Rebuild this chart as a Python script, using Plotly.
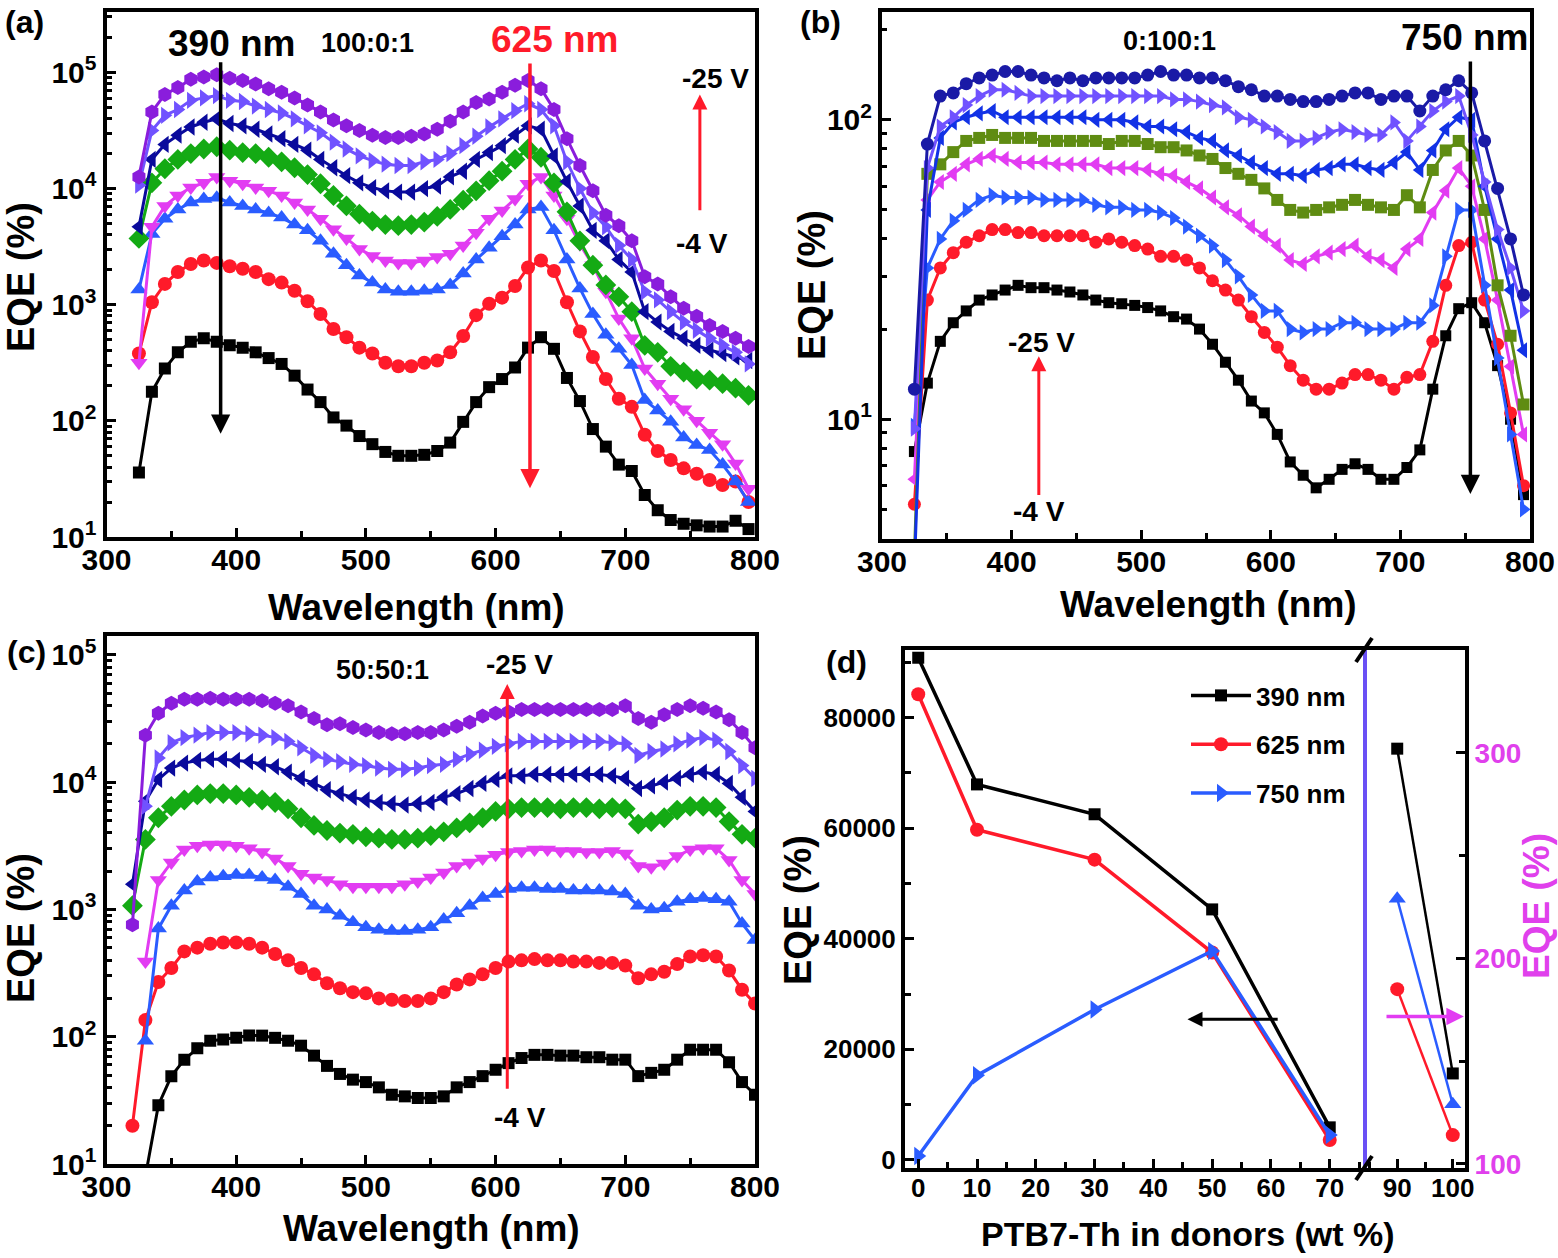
"""EQE spectra of the three blends under bias, plus EQE vs PTB7-Th content."""

import plotly.graph_objects as go

W, H = 1558, 1258
FONT = "Liberation Sans, Arial, Helvetica, sans-serif"

# ── wavelength grids (nm) ────────────────────────────────────────────────────
wl_ab = [325, 335, 345, 355, 365, 375, 385, 395,
         405, 415, 425, 435, 445, 455, 465, 475,
         485, 495, 505, 515, 525, 535, 545, 555,
         565, 575, 585, 595, 605, 615, 625, 635,
         645, 655, 665, 675, 685, 695, 705, 715,
         725, 735, 745, 755, 765, 775, 785, 795]

wl_c = [320, 330, 340, 350, 360, 370, 380,
        390, 400, 410, 420, 430, 440, 450,
        460, 470, 480, 490, 500, 510, 520,
        530, 540, 550, 560, 570, 580, 590,
        600, 610, 620, 630, 640, 650, 660,
        670, 680, 690, 700, 710, 720, 730,
        740, 750, 760, 770, 780, 790, 800]

# ── (a) 100:0:1, EQE (%) from -4 V (black) up to -25 V (purple) ─────────────
a_black = [36, 178, 282, 389, 479, 513, 479, 447,
           427, 389, 347, 309, 245, 186, 145, 107,
           91, 74, 63, 54, 50, 50, 51, 55,
           65, 98, 145, 195, 229, 288, 427, 525,
           417, 234, 148, 85, 60, 42, 37, 23,
           17, 14, 13, 12.6, 12.3, 12.3, 13.8, 11.7]
a_red = [380, 1050, 1510, 1910, 2240, 2400, 2290, 2140,
         2040, 1910, 1660, 1550, 1320, 1070, 832, 617,
         525, 427, 380, 316, 295, 295, 316, 331,
         389, 537, 813, 1020, 1150, 1450, 2090, 2400,
         1950, 1050, 589, 355, 229, 155, 132, 76,
         55, 46, 39, 35, 31, 28, 30, 20]
a_blue = [1350, 4070, 5500, 6610, 7590, 8130, 8320, 7590,
          7080, 6610, 6170, 5620, 4900, 4370, 3550, 2750,
          2190, 1780, 1550, 1350, 1290, 1290, 1320, 1350,
          1480, 1860, 2450, 3090, 3890, 4900, 6610, 6920,
          4370, 2450, 1380, 832, 550, 417, 302, 151,
          123, 98, 72, 62, 56, 42, 30, 20]
a_magenta = [316, 4680, 7080, 8710, 10200, 11200, 12600, 11700,
             11000, 10200, 9550, 8710, 7590, 6610, 5500, 4470,
             3720, 3020, 2630, 2400, 2290, 2290, 2400, 2570,
             2750, 3240, 4170, 5500, 6460, 8130, 11000, 12600,
             8710, 5500, 3310, 2190, 1290, 759, 513, 282,
             209, 155, 126, 100, 79, 63, 43, 26]
a_green = [3720, 11200, 14800, 17800, 20000, 21900, 22900, 21400,
           20400, 20000, 18600, 17000, 15100, 13200, 11000, 8710,
           7080, 6030, 5250, 4900, 4790, 4900, 5130, 5750,
           6610, 7940, 9550, 11700, 14100, 17800, 21900, 18600,
           11200, 6310, 3550, 2190, 1480, 1170, 871, 447,
           389, 295, 263, 229, 224, 209, 191, 166]
a_navy = [4680, 17800, 24000, 28800, 33900, 37200, 39800, 36300,
          34700, 32400, 29500, 26900, 24000, 21400, 17800, 15100,
          12900, 11200, 10200, 9550, 9330, 9330, 10000, 10500,
          12600, 14100, 17800, 20400, 23400, 28800, 34700, 32400,
          19100, 11500, 7080, 4370, 3550, 2450, 1910, 871,
          708, 589, 513, 447, 407, 380, 355, 331]
a_violet = [10700, 31600, 42700, 47900, 57500, 60300, 63100, 57500,
            56200, 51300, 47900, 44700, 39800, 34700, 30200, 25100,
            21900, 19100, 17400, 16200, 15800, 15800, 17000, 17800,
            20000, 23400, 28200, 33900, 39800, 46800, 53700, 47900,
            34700, 17000, 10000, 6170, 4680, 3240, 2450, 1290,
            1100, 871, 708, 603, 513, 447, 389, 309]
a_purple = [12600, 45700, 64600, 74100, 87100, 91200, 95500, 89100,
            85100, 79400, 72400, 67600, 60300, 52500, 45700, 38900,
            34700, 31600, 28800, 27500, 27500, 28200, 29500, 32400,
            38000, 45700, 55000, 58900, 67600, 77600, 85100, 72400,
            47900, 26900, 15800, 9550, 5890, 4790, 3550, 1740,
            1510, 1170, 933, 794, 661, 589, 513, 437]

# ── (b) 0:100:1 ──────────────────────────────────────────────────────────────
b_black = [7.8, 13.2, 18.2, 21, 23, 25, 26, 27,
           28, 27.5, 27.5, 27, 26.6, 26, 25, 24.5,
           24.3, 24, 23.6, 23, 22, 21.6, 20, 17.8,
           15.5, 13.5, 11.5, 10.5, 8.9, 7.2, 6.5, 5.9,
           6.3, 6.8, 7.1, 6.8, 6.3, 6.3, 6.9, 7.9,
           12.6, 19, 23.4, 24.5, 21, 15.1, 10, 5.6]
b_red = [5.2, 25, 32, 36, 39, 41, 43, 43,
         42, 42, 41, 41, 41, 41, 39, 40,
         39, 38, 37, 35, 35, 34, 32, 29,
         27, 25, 22, 19.5, 17.4, 15.1, 13.5, 12.6,
         12.6, 13.2, 14.1, 14.1, 13.5, 12.6, 13.8, 14.1,
         18.2, 28, 38, 39, 25, 17.8, 10.5, 6.0]
b_blue_r = [9.5, 32, 40, 46, 50, 54, 56, 55,
            55, 55, 54, 54, 54, 54, 52, 51,
            51, 50, 50, 49, 47, 44, 41, 38,
            34, 30, 26, 23, 23, 20, 19.5, 20,
            20, 21, 21, 20, 20, 20, 21, 21,
            24, 35, 50, 50, 28, 16, 8.9, 5.0]
b_magenta = [6.3, 54, 62, 66, 71, 74, 76, 74,
             72, 72, 72, 71, 71, 71, 71, 69,
             69, 69, 68, 66, 65, 62, 59, 55,
             51, 48, 44, 41, 38, 34, 33, 35,
             36, 37, 38, 35, 34, 32, 37, 40,
             49, 58, 69, 60, 40, 25, 15, 8.9]
b_olive = [3.5, 66, 71, 78, 85, 87, 89, 87,
           87, 87, 85, 85, 85, 85, 85, 83,
           85, 85, 83, 81, 81, 79, 76, 74,
           69, 66, 63, 59, 54, 50, 49, 50,
           51, 52, 54, 52, 51, 50, 56, 51,
           68, 79, 85, 76, 50, 28, 19, 11.2]
b_blue_l = [3.2, 50, 87, 98, 102, 105, 107, 102,
            102, 102, 102, 102, 102, 102, 100, 100,
            100, 98, 95, 95, 93, 91, 87, 85,
            79, 76, 72, 69, 66, 66, 65, 68,
            69, 71, 71, 69, 68, 72, 78, 68,
            79, 93, 102, 100, 60, 40, 27, 17]
b_violet = [9.3, 69, 95, 102, 112, 120, 126, 126,
            123, 120, 120, 120, 120, 120, 120, 120,
            120, 120, 120, 120, 117, 117, 115, 112,
            110, 102, 100, 95, 91, 85, 85, 87,
            91, 93, 91, 89, 89, 98, 85, 95,
            107, 115, 120, 89, 62, 43, 32, 23]
b_navy = [12.6, 83, 120, 123, 132, 138, 141, 145,
          145, 141, 138, 135, 138, 135, 138, 138,
          138, 138, 141, 145, 141, 141, 138, 138,
          135, 129, 126, 120, 120, 117, 115, 115,
          117, 120, 123, 123, 117, 120, 120, 107,
          120, 126, 135, 123, 85, 59, 40, 26]

# ── (c) 50:50:1 ──────────────────────────────────────────────────────────────
c_black = [None, 8, 29, 49, 66, 81, 93,
           95, 98, 102, 102, 98, 93, 85,
           71, 59, 51, 46, 44, 40, 35,
           34, 33, 33, 34, 40, 44, 49,
           55, 62, 68, 72, 72, 71, 71,
           69, 69, 66, 66, 49, 52, 55,
           66, 79, 79, 79, 63, 44, 35]
c_red = [20, 135, 269, 347, 468, 501, 537,
         550, 550, 537, 501, 447, 398, 347,
         309, 263, 240, 224, 219, 200, 195,
         191, 191, 200, 224, 257, 282, 309,
         347, 389, 398, 407, 398, 398, 389,
         389, 380, 380, 363, 288, 309, 324,
         372, 427, 437, 427, 331, 234, 182]
c_blue = [None, 93, 708, 1070, 1410, 1660, 1780,
          1820, 1860, 1860, 1780, 1700, 1510, 1320,
          1070, 1000, 891, 794, 724, 692, 676,
          676, 692, 724, 832, 933, 1070, 1230,
          1320, 1450, 1480, 1480, 1450, 1450, 1410,
          1410, 1410, 1380, 1320, 1070, 1000, 1020,
          1150, 1200, 1230, 1200, 1150, 776, 575]
c_magenta = [None, 389, 1700, 2340, 2950, 3160, 3240,
             3240, 3160, 3020, 2820, 2510, 2190, 1910,
             1780, 1700, 1580, 1510, 1510, 1510, 1510,
             1580, 1660, 1780, 1950, 2190, 2340, 2510,
             2690, 2820, 2880, 2950, 2950, 2880, 2880,
             2820, 2820, 2880, 2750, 2190, 2140, 2290,
             2630, 2950, 3020, 3020, 2450, 1700, 1320]
c_green = [1070, 3550, 5250, 6460, 7240, 7940, 8130,
           8130, 7940, 7590, 7240, 6920, 6170, 5250,
           4570, 4170, 3980, 3890, 3720, 3630, 3550,
           3550, 3630, 3800, 4070, 4370, 4790, 5250,
           5890, 6170, 6310, 6310, 6310, 6170, 6310,
           6310, 6170, 6310, 6170, 4680, 4900, 5250,
           6030, 6460, 6460, 6310, 4900, 3890, 3630]
c_navy = [1580, 7080, 10500, 12900, 14100, 14800, 15100,
          15100, 14800, 14500, 13800, 13200, 12000, 10700,
          9770, 8710, 8130, 7590, 7240, 6920, 6760,
          6610, 6760, 6920, 7590, 8130, 8910, 9770,
          10500, 11200, 11200, 11500, 11500, 11500, 11500,
          11500, 11500, 11200, 10700, 8910, 9330, 10000,
          10700, 11500, 12000, 11500, 9770, 7590, 5890]
c_violet = [None, 6460, 15500, 20400, 22400, 23400, 24500,
            24500, 24500, 24000, 23400, 22400, 20900, 18600,
            16200, 15100, 14500, 13800, 13500, 12900, 12600,
            12600, 12900, 13500, 13800, 15100, 16600, 17800,
            19100, 20000, 20900, 20900, 20900, 20900, 20900,
            20900, 20900, 20400, 20000, 16200, 17400, 18200,
            20000, 21400, 22400, 21400, 17400, 13500, 10700]
c_purple = [759, 23400, 34700, 41700, 44700, 44700, 45700,
            44700, 44700, 44700, 43600, 41700, 39800, 35500,
            31600, 28200, 28800, 26900, 25700, 24500, 24000,
            24000, 24500, 24500, 25700, 27500, 29500, 33100,
            34700, 35500, 37200, 37200, 37200, 37200, 37200,
            37200, 37200, 37200, 39800, 31600, 29500, 33900,
            37200, 39800, 38000, 35500, 30900, 24500, 18600]

# ── (d) EQE at -25 V vs PTB7-Th fraction in donors ───────────────────────────
ptb7_low = [0, 10, 30, 50, 70]
d390_low = [90800, 67900, 62500, 45300, 5900]
d625_low = [84200, 59700, 54300, 37500, 3600]
d750_low = [720, 15300, 27200, 37800, 4500]
ptb7_high = [90, 100]
d390_high = [302, 144]
d625_high = [185, 114]
d750_high = [229, 129]

# ── colours / symbols ────────────────────────────────────────────────────────
BLACK = "#000000"
RED = "#ff1a2a"
BLUE = "#2a5cff"
MAGENTA = "#e23cf2"
GREEN = "#14aa14"
NAVY = "#0a0a9c"
VIOLET = "#7052ff"
PURPLE = "#8a1ddc"
OLIVE = "#5f8c12"
BLUE2 = "#1232e6"
NAVY2 = "#1a1aa6"
PINK_AXIS = "#e040ec"

series_a = [
    (a_black, BLACK, "square", 12), (a_red, RED, "circle", 14),
    (a_blue, BLUE, "triangle-up", 15), (a_magenta, MAGENTA, "triangle-down", 15),
    (a_green, GREEN, "diamond", 16), (a_navy, NAVY, "triangle-left", 15),
    (a_violet, VIOLET, "triangle-right", 15), (a_purple, PURPLE, "hexagon", 15),
]
series_b = [
    (b_black, BLACK, "square", 11), (b_red, RED, "circle", 13),
    (b_blue_r, BLUE, "triangle-right", 14), (b_magenta, MAGENTA, "triangle-left", 14),
    (b_olive, OLIVE, "square", 12), (b_blue_l, BLUE2, "triangle-left", 14),
    (b_violet, VIOLET, "triangle-right", 14), (b_navy, NAVY2, "circle", 13),
]
series_c = [
    (c_black, BLACK, "square", 12), (c_red, RED, "circle", 14),
    (c_blue, BLUE, "triangle-up", 15), (c_magenta, MAGENTA, "triangle-down", 15),
    (c_green, GREEN, "diamond", 16), (c_navy, NAVY, "triangle-left", 15),
    (c_violet, VIOLET, "triangle-right", 15), (c_purple, PURPLE, "hexagon", 15),
]


def px_x(x):
    return x / W


def px_y(y):
    return 1 - y / H


fig = go.Figure()

for xs, series, xa, ya in [(wl_ab, series_a, "x", "y"),
                           (wl_ab, series_b, "x2", "y2"),
                           (wl_c, series_c, "x3", "y3")]:
    for vals, color, symbol, size in series:
        fig.add_trace(go.Scatter(
            x=xs, y=vals, mode="lines+markers", xaxis=xa, yaxis=ya,
            line=dict(color=color, width=3),
            marker=dict(symbol=symbol, size=size, color=color, line=dict(width=0)),
            showlegend=False, hoverinfo="skip",
        ))

# (d) left part, PTB7-Th 0-70 %, left axis
for name, vals, color, symbol, size in [
        ("390 nm", d390_low, BLACK, "square", 12),
        ("625 nm", d625_low, RED, "circle", 14),
        ("750 nm", d750_low, BLUE, "triangle-right", 16)]:
    fig.add_trace(go.Scatter(
        x=ptb7_low, y=vals, mode="lines+markers", xaxis="x4", yaxis="y4",
        name=name, legendgroup=name,
        line=dict(color=color, width=3.5),
        marker=dict(symbol=symbol, size=size, color=color, line=dict(width=0)),
        hoverinfo="skip",
    ))

# (d) right part, PTB7-Th 90-100 %, right axis
for vals, color, symbol, size in [
        (d390_high, BLACK, "square", 12),
        (d625_high, RED, "circle", 14),
        (d750_high, BLUE, "triangle-up", 15)]:
    fig.add_trace(go.Scatter(
        x=ptb7_high, y=vals, mode="lines+markers", xaxis="x5", yaxis="y5",
        line=dict(color=color, width=2.5),
        marker=dict(symbol=symbol, size=size, color=color, line=dict(width=0)),
        showlegend=False, hoverinfo="skip",
    ))


def axis(domain, tick_size=30, **kw):
    base = dict(
        domain=domain, showline=True, linecolor="black", linewidth=4, mirror=True,
        ticks="inside", ticklen=9, tickwidth=3, tickcolor="black",
        showgrid=False, zeroline=False, automargin=False,
        tickfont=dict(family=FONT, size=tick_size, color="black", weight="bold"),
    )
    base.update(kw)
    return base


def log_labels(powers):
    return dict(tickmode="array", tickvals=[10 ** p for p in powers],
                ticktext=[f"10<sup>{p}</sup>" for p in powers])


wl_minor = dict(ticks="inside", ticklen=6, tickwidth=3, dtick=50, tick0=300)
log_minor = dict(ticks="inside", ticklen=5, tickwidth=3, dtick="D1")

fig.update_layout(
    template="none",
    xaxis=axis([px_x(106.5), px_x(755)], range=[300, 800], dtick=100, tick0=300,
               minor=wl_minor, anchor="y", ticklabelstandoff=-7),
    yaxis=axis([px_y(537), px_y(12)], type="log", range=[1, 5.52],
               minor=log_minor, anchor="x", **log_labels([1, 2, 3, 4, 5])),
    xaxis2=axis([px_x(882), px_x(1530)], range=[300, 800], dtick=100, tick0=300,
                minor=wl_minor, anchor="y2", ticklabelstandoff=-7),
    yaxis2=axis([px_y(539), px_y(12)], type="log", range=[0.6, 2.36],
                minor=log_minor, anchor="x2", **log_labels([1, 2])),
    xaxis3=axis([px_x(106.5), px_x(755)], range=[300, 800], dtick=100, tick0=300,
                minor=wl_minor, anchor="y3", ticklabelstandoff=-7),
    yaxis3=axis([px_y(1164), px_y(636)], type="log", range=[1, 5.148],
                minor=log_minor, anchor="x3", **log_labels([1, 2, 3, 4, 5])),
    xaxis4=axis([px_x(905), px_x(1365)], tick_size=26, range=[-2.25, 76.0],
                dtick=10, tick0=0, anchor="y4", ticklabelstandoff=-6,
                minor=dict(ticks="inside", ticklen=6, tickwidth=3, dtick=5, tick0=0)),
    yaxis4=axis([px_y(1168), px_y(650)], tick_size=26, range=[-1450, 92200],
                dtick=20000, tick0=0, tickformat="d", anchor="x4", mirror=False,
                minor=dict(ticks="inside", ticklen=6, tickwidth=3, dtick=10000, tick0=0)),
    xaxis5=axis([px_x(1365), px_x(1465)], tick_size=26, range=[84.2, 102.2],
                dtick=10, tick0=0, anchor="y5", ticklabelstandoff=-6,
                minor=dict(ticks="inside", ticklen=6, tickwidth=3, dtick=5, tick0=0)),
    yaxis5=axis([px_y(1168), px_y(650)], tick_size=28, range=[98, 350],
                dtick=100, tick0=0, anchor="x5", side="right", mirror=False,
                tickfont=dict(family=FONT, size=28, color=PINK_AXIS, weight="bold"),
                minor=dict(ticks="inside", ticklen=6, tickwidth=3, dtick=50, tick0=0)),
    legend=dict(x=px_x(1186), y=px_y(672), xanchor="left", yanchor="top",
                font=dict(family=FONT, size=26, color="black", weight="bold"),
                bgcolor="rgba(0,0,0,0)", borderwidth=0, tracegroupgap=12,
                itemwidth=60),
    width=W, height=H, autosize=False,
    margin=dict(l=0, r=0, t=0, b=0, pad=0),
    paper_bgcolor="white", plot_bgcolor="white",
    font=dict(family=FONT, color="black"),
)


def text(s, x, y, size, color="black", angle=0):
    return dict(text=f"<b>{s}</b>", x=px_x(x), y=px_y(y), xref="paper", yref="paper",
                showarrow=False, textangle=angle, xanchor="center", yanchor="middle",
                font=dict(family=FONT, size=size, color=color))


def arrow(xa, ya, x_tip, y_tip, x_tail, y_tail, color, width=3.5, size=1.1):
    # positions on log axes are given as log10 values (plotly convention)
    return dict(text="", xref=xa, yref=ya, axref=xa, ayref=ya,
                x=x_tip, y=y_tip, ax=x_tail, ay=y_tail, showarrow=True,
                arrowhead=2, arrowsize=size, arrowwidth=width, arrowcolor=color,
                standoff=0, startstandoff=0)


notes = [
    # panel letters
    text("(a)", 24, 22, 32), text("(b)", 821, 22, 32),
    text("(c)", 26, 652, 32), text("(d)", 847, 662, 32),
    # (a)
    text("390 nm", 232, 44, 37), text("100:0:1", 367, 43, 27),
    text("625 nm", 555, 40, 37, RED),
    text("-25 V", 715, 78, 28), text("-4 V", 702, 243, 28),
    arrow("x", "y", 388, 1.89, 388, 5.10, BLACK),
    arrow("x", "y", 626.5, 1.42, 626.5, 5.09, RED),
    arrow("x", "y", 757.5, 4.81, 757.5, 3.80, RED, width=3, size=1.0),
    # (b)
    text("0:100:1", 1169, 41, 27), text("750 nm", 1465, 38, 37),
    text("-25 V", 1041, 342, 28), text("-4 V", 1039, 511, 28),
    arrow("x2", "y2", 754, 0.75, 754, 2.20, BLACK),
    arrow("x2", "y2", 421, 1.21, 421, 0.742, RED, width=3, size=1.0),
    # (c)
    text("50:50:1", 382, 670, 27), text("-25 V", 519, 665, 28),
    text("-4 V", 520, 1117, 28),
    arrow("x3", "y3", 609, 4.77, 609, 1.58, RED, width=3, size=1.0),
    # (d)
    arrow("x4", "y4", 45.8, 25440, 61.4, 25440, BLACK, width=3, size=1.0),
    arrow("x5", "y5", 102.0, 171.7, 87.8, 171.7, MAGENTA, width=3.5, size=1.0),
    # axis titles
    text("Wavelength (nm)", 417, 607, 37), text("Wavelength (nm)", 1208, 604, 37),
    text("Wavelength (nm)", 431, 1228, 37),
    text("PTB7-Th in donors (wt %)", 1188, 1234, 34),
    text("EQE (%)", 21, 277, 38, angle=-90), text("EQE (%)", 812, 285, 38, angle=-90),
    text("EQE (%)", 21, 928, 38, angle=-90), text("EQE (%)", 798, 910, 38, angle=-90),
    text("EQE (%)", 1536, 906, 37, PINK_AXIS, angle=-90),
]
fig.update_layout(annotations=notes)

# axis break in (d): coloured divider and the two slash marks
shapes = [dict(type="line", xref="paper", yref="paper",
               x0=px_x(1365), x1=px_x(1365), y0=px_y(1168), y1=px_y(650),
               line=dict(color="#6a50f5", width=4), layer="above")]
for yc in (650, 1168):
    shapes.append(dict(type="line", xref="paper", yref="paper",
                       x0=px_x(1356), x1=px_x(1372), y0=px_y(yc + 12), y1=px_y(yc - 12),
                       line=dict(color="black", width=4), layer="above"))
fig.update_layout(shapes=shapes)

# the page body keeps its default 8 px margin otherwise
fig.write_html("out.html", config={"displayModeBar": False},
               post_script="document.body.style.margin = '0px';")
